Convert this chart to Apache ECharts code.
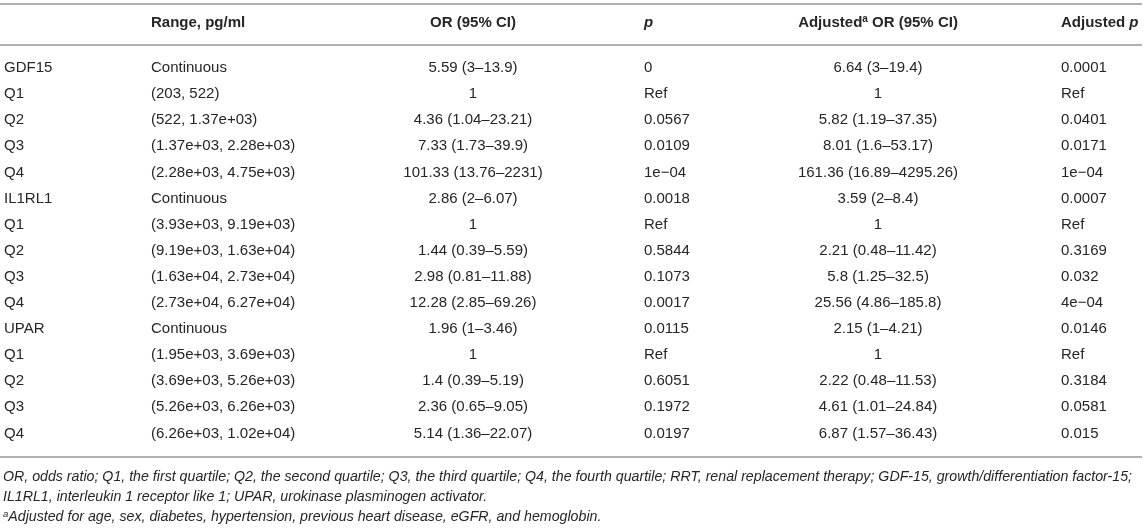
<!DOCTYPE html>
<html>
<head>
<meta charset="utf-8">
<script src="https://cdn.jsdelivr.net/npm/echarts@6/dist/echarts.min.js"></script>
<style>
html,body{margin:0;padding:0;background:#fff;}
#chart{width:1145px;height:528px;}
</style>
</head>
<body>
<div id="chart"></div>
<script>
// ---- data ----
var headers = ['', 'Range, pg/ml', 'OR (95% CI)', '{bi|p}', 'Adjusted{sup|a} OR (95% CI)', 'Adjusted {bi|p}'];
var rowLabels = ['GDF15','Q1','Q2','Q3','Q4','IL1RL1','Q1','Q2','Q3','Q4','UPAR','Q1','Q2','Q3','Q4'];
var ranges = ['Continuous','(203, 522)','(522, 1.37e+03)','(1.37e+03, 2.28e+03)','(2.28e+03, 4.75e+03)',
  'Continuous','(3.93e+03, 9.19e+03)','(9.19e+03, 1.63e+04)','(1.63e+04, 2.73e+04)','(2.73e+04, 6.27e+04)',
  'Continuous','(1.95e+03, 3.69e+03)','(3.69e+03, 5.26e+03)','(5.26e+03, 6.26e+03)','(6.26e+03, 1.02e+04)'];
var orCI = ['5.59 (3–13.9)','1','4.36 (1.04–23.21)','7.33 (1.73–39.9)','101.33 (13.76–2231)',
  '2.86 (2–6.07)','1','1.44 (0.39–5.59)','2.98 (0.81–11.88)','12.28 (2.85–69.26)',
  '1.96 (1–3.46)','1','1.4 (0.39–5.19)','2.36 (0.65–9.05)','5.14 (1.36–22.07)'];
var pValues = ['0','Ref','0.0567','0.0109','1e−04',
  '0.0018','Ref','0.5844','0.1073','0.0017',
  '0.0115','Ref','0.6051','0.1972','0.0197'];
var adjOrCI = ['6.64 (3–19.4)','1','5.82 (1.19–37.35)','8.01 (1.6–53.17)','161.36 (16.89–4295.26)',
  '3.59 (2–8.4)','1','2.21 (0.48–11.42)','5.8 (1.25–32.5)','25.56 (4.86–185.8)',
  '2.15 (1–4.21)','1','2.22 (0.48–11.53)','4.61 (1.01–24.84)','6.87 (1.57–36.43)'];
var adjP = ['0.0001','Ref','0.0401','0.0171','1e−04',
  '0.0007','Ref','0.3169','0.032','4e−04',
  '0.0146','Ref','0.3184','0.0581','0.015'];
var footnotes = [
  'OR, odds ratio; Q1, the first quartile; Q2, the second quartile; Q3, the third quartile; Q4, the fourth quartile; RRT, renal replacement therapy; GDF-15, growth/differentiation factor-15;',
  'IL1RL1, interleukin 1 receptor like 1; UPAR, urokinase plasminogen activator.',
  '{sup|a}Adjusted for age, sex, diabetes, hypertension, previous heart disease, eGFR, and hemoglobin.'
];

// ---- layout / style (not data) ----
var columnLayout = [
  {x: 4, align: 'left'},
  {x: 151, align: 'left'},
  {x: 473, align: 'center'},
  {x: 644, align: 'left'},
  {x: 878, align: 'center'},
  {x: 1061, align: 'left'}
];
var FONT = '"Liberation Sans", Arial, Helvetica, sans-serif';
var TEXT_COLOR = '#262626';
var FS = 15;

var columns = [rowLabels, ranges, orCI, pValues, adjOrCI, adjP];
var bodyCells = [];
columns.forEach(function (arr, c) {
  arr.forEach(function (t, r) { bodyCells.push({value: [c, r], text: t}); });
});
var headerCells = headers.map(function (t, c) { return {value: [c, 0], text: t}; });

function makeRender(cells, bold) {
  return function (params, api) {
    var c = api.value(0), r = api.value(1);
    var lay = columnLayout[c];
    var pt = api.coord([lay.x, r]);
    var w = bold ? 'bold' : 'normal';
    return {
      type: 'text',
      x: pt[0], y: pt[1],
      style: {
        text: cells[params.dataIndex].text,
        align: lay.align,
        verticalAlign: 'middle',
        fontFamily: FONT, fontSize: FS, fontWeight: w,
        fill: TEXT_COLOR,
        rich: {
          bi: {fontFamily: FONT, fontSize: FS, fontWeight: 'bold', fontStyle: 'italic', fill: TEXT_COLOR},
          sup: {fontFamily: FONT, fontSize: 10, fontWeight: 'bold', fill: TEXT_COLOR, verticalAlign: 'top', padding: [0, 0, 7, 0]}
        }
      }
    };
  };
}

var chart = echarts.init(document.getElementById('chart'), null, {renderer: 'canvas'});
var ruleStyle = {stroke: '#b0b0b0', lineWidth: 2};
chart.setOption({
  animation: false,
  grid: [
    {left: 0, right: 0, top: 10, height: 26},
    {left: 0, right: 0, top: 55, height: 391.5}
  ],
  xAxis: [
    {type: 'value', min: 0, max: 1145, gridIndex: 0, show: false},
    {type: 'value', min: 0, max: 1145, gridIndex: 1, show: false}
  ],
  yAxis: [
    {type: 'category', data: ['header'], gridIndex: 0, show: false, inverse: true},
    {type: 'category', data: rowLabels.map(function (d, i) { return i; }), gridIndex: 1, show: false, inverse: true}
  ],
  series: [
    {type: 'custom', xAxisIndex: 0, yAxisIndex: 0, data: headerCells, renderItem: makeRender(headerCells, true), silent: true},
    {type: 'custom', xAxisIndex: 1, yAxisIndex: 1, data: bodyCells, renderItem: makeRender(bodyCells, false), silent: true}
  ],
  graphic: [
    {type: 'line', shape: {x1: 0, y1: 4, x2: 1142, y2: 4}, style: ruleStyle, silent: true},
    {type: 'line', shape: {x1: 0, y1: 45, x2: 1142, y2: 45}, style: ruleStyle, silent: true},
    {type: 'line', shape: {x1: 0, y1: 457, x2: 1142, y2: 457}, style: ruleStyle, silent: true}
  ].concat(footnotes.map(function (t, i) {
    return {
      type: 'text', x: 3, y: 477 + i * 20, silent: true,
      style: {
        text: t, verticalAlign: 'middle',
        fontFamily: FONT, fontSize: 14.2, fontStyle: 'italic', fill: TEXT_COLOR,
        rich: {sup: {fontFamily: FONT, fontSize: 9.5, fontStyle: 'italic', fill: TEXT_COLOR, verticalAlign: 'top', padding: [0, 0, 6, 0]}}
      }
    };
  }))
});
</script>
</body>
</html>
